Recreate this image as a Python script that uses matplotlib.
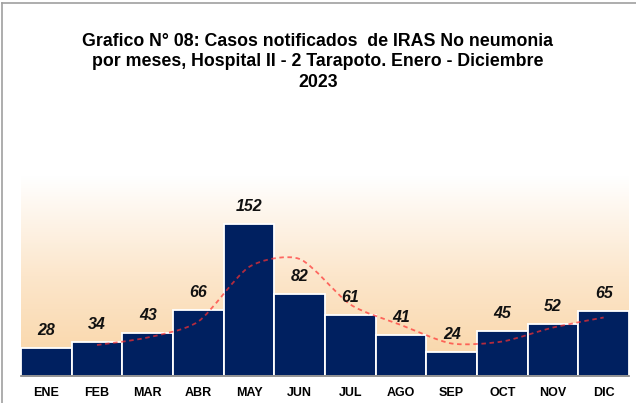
import matplotlib.pyplot as plt
import numpy as np
from matplotlib.path import Path
from matplotlib.patches import PathPatch
from matplotlib.lines import Line2D
from matplotlib.colors import LinearSegmentedColormap

plt.rcParams['font.family'] = ['Liberation Sans', 'DejaVu Sans']

months = ['ENE', 'FEB', 'MAR', 'ABR', 'MAY', 'JUN', 'JUL', 'AGO', 'SEP', 'OCT', 'NOV', 'DIC']
cases = [28, 34, 43, 66, 152, 82, 61, 41, 24, 45, 52, 65]
# 2-month moving average trend (FEB..DIC)
trend_months = months[1:]
trend_vals = [31, 38.5, 54.5, 109, 117, 71.5, 51, 32.5, 34.5, 48.5, 58.5]

fig = plt.figure(figsize=(6.36, 4.03), dpi=100)
ax = fig.add_axes([21 / 636, 1 - 376 / 403, 608 / 636, 200 / 403])

x = np.arange(len(months))
ax.set_xlim(-0.5, len(months) - 0.5)
ax.set_ylim(0, 200)

# gradient background (white top -> peach bottom)
cmap = LinearSegmentedColormap.from_list('bg', ['#F9D4A4', '#FCE6CB', '#FFFFFF'])
grad = np.linspace(0, 1, 256).reshape(-1, 1)
ax.imshow(grad, cmap=cmap, aspect='auto', origin='lower',
          extent=(-0.5, len(months) - 0.5, 0, 200), zorder=0)

bars = ax.bar(x, cases, width=1.0, color='#002060', edgecolor='white', linewidth=1.3, zorder=2)

for xi, v in zip(x, cases):
    ax.annotate(str(v), (xi, v), xytext=(0, 7), textcoords='offset points',
                ha='center', va='bottom', fontsize=11.5, fontweight='bold',
                fontstyle='italic', color='#111111', zorder=4)

# smooth trend curve drawn as cubic Bezier through the trend points
tx = np.array([months.index(m) for m in trend_months], dtype=float)
ty = np.array(trend_vals, dtype=float)
pts = np.column_stack([tx, ty])
k = 1 / 8
verts = [tuple(pts[0])]
codes = [Path.MOVETO]
for i in range(len(pts) - 1):
    p0 = pts[i - 1] if i > 0 else pts[i]
    p1, p2 = pts[i], pts[i + 1]
    p3 = pts[i + 2] if i + 2 < len(pts) else pts[i + 1]
    c1 = p1 + (p2 - p0) * k
    c2 = p2 - (p3 - p1) * k
    verts += [tuple(c1), tuple(c2), tuple(p2)]
    codes += [Path.CURVE4] * 3
trend = PathPatch(Path(verts, codes), facecolor='none', edgecolor='#FF3030',
                  alpha=0.7, linewidth=1.3, linestyle=(0, (2.5, 2)), zorder=3)
ax.add_patch(trend)

ax.set_xticks(x)
ax.set_xticklabels(months, fontsize=9, fontweight='bold')
ax.tick_params(axis='x', length=0, pad=8)
ax.set_yticks([])
for s in ['top', 'right', 'left']:
    ax.spines[s].set_visible(False)
ax.spines['bottom'].set_color('#808080')
ax.spines['bottom'].set_linewidth(1.2)

fig.text(0.5, 1 - 62 / 403,
         'Grafico N° 08: Casos notificados  de IRAS No neumonia\n'
         'por meses, Hospital II - 2 Tarapoto. Enero - Diciembre\n2023',
         ha='center', va='center', fontsize=12.8, fontweight='bold',
         linespacing=1.25, color='#000000')

# chart frame (left and top edges visible)
fig.add_artist(Line2D([2 / 636, 2 / 636], [0, 1 - 3 / 403], color='#A0A0A0', lw=1.2))
fig.add_artist(Line2D([2 / 636, 1], [1 - 3 / 403, 1 - 3 / 403], color='#A0A0A0', lw=1.2))

fig.savefig('out.png', dpi=100)
